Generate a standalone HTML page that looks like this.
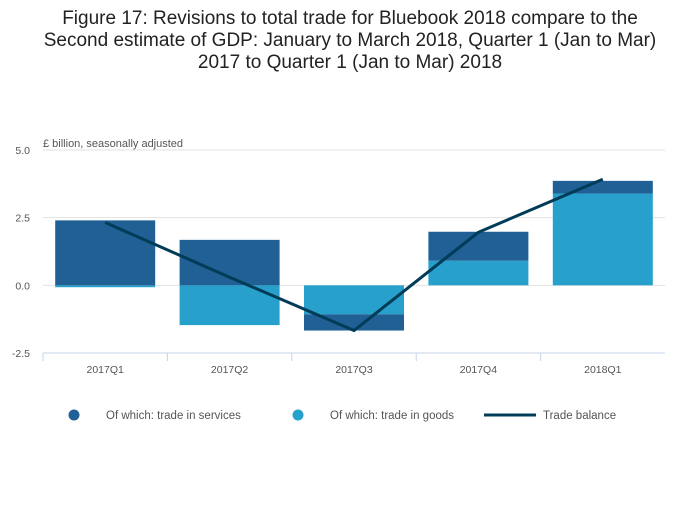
<!DOCTYPE html>
<html><head><meta charset="utf-8"><style>
body{margin:0;background:#fff;font-family:"Liberation Sans",sans-serif;}
svg text{font-family:"Liberation Sans",sans-serif;}
</style></head><body>
<svg width="700" height="502" viewBox="0 0 700 502" xmlns="http://www.w3.org/2000/svg">
<g fill="#222" font-size="19" text-anchor="middle">
<text x="350" y="24">Figure 17: Revisions to total trade for Bluebook 2018 compare to the</text>
<text x="350" y="46">Second estimate of GDP: January to March 2018, Quarter 1 (Jan to Mar)</text>
<text x="350" y="68">2017 to Quarter 1 (Jan to Mar) 2018</text>
</g>
<text x="43" y="147" font-size="11" fill="#555">£ billion, seasonally adjusted</text>
<g id="grid"></g><g id="bars"></g><g id="line"></g><g id="axis"></g>
<g font-size="11.5" fill="#555">
<g><circle cx="74" cy="415" r="5.5" fill="#206095"/><text x="106" y="419">Of which: trade in services</text></g>
<g><circle cx="298" cy="415" r="5.5" fill="#27a0cc"/><text x="330" y="419">Of which: trade in goods</text></g>
<g><line x1="484" y1="415" x2="536" y2="415" stroke="#003c57" stroke-width="3"/><text x="543" y="419">Trade balance</text></g>
</g>
</svg>
<script>
const categories=["2017Q1","2017Q2","2017Q3","2017Q4","2018Q1"];
const services=[2.4,1.68,-0.6,1.07,0.47];
const goods=[-0.07,-1.47,-1.07,0.91,3.39];
const balance=[2.32,0.3,-1.67,1.96,3.92];
const yTicks=[5,2.5,0,-2.5];
const yTickLabels=["5.0","2.5","0.0","-2.5"];
const NS="http://www.w3.org/2000/svg";
const L=43,R=665,T=150,B=353,ymin=-2.5,ymax=5;
const y=v=>B-(v-ymin)/(ymax-ymin)*(B-T);
const bw=(R-L)/categories.length;
const x=i=>L+bw*(i+0.5);
function mk(t,a,p){const e=document.createElementNS(NS,t);for(const k in a)e.setAttribute(k,a[k]);p.appendChild(e);return e;}
const grid=document.getElementById('grid'),bars=document.getElementById('bars'),line=document.getElementById('line'),axis=document.getElementById('axis');
yTicks.forEach((v,i)=>{
 if(v>ymin){const g=mk('line',{x1:L,x2:R,y1:y(v),y2:y(v),stroke:'#e2e2e2'},grid);
 
 }
 const t=mk('text',{x:30,y:y(v)+4,'text-anchor':'end','font-size':'10.5',fill:'#555'},axis);t.textContent=yTickLabels[i];
 
 
});
const al=mk('line',{x1:L,x2:R,y1:B,y2:B,stroke:'#c6d3e6'},axis);


categories.forEach((c,i)=>{
 const tk=mk('line',{x1:L+bw*i,x2:L+bw*i,y1:B,y2:B+8,stroke:'#c6d3e6'},axis);
 
 
 const t=mk('text',{x:x(i),y:B+20,'text-anchor':'middle','font-size':'10.5',fill:'#555'},axis);t.textContent=c;
 
 
 let pos=0,neg=0;
 [[goods[i],'#27a0cc','bar-goods'],[services[i],'#206095','bar-services']].forEach(([v,col,nm])=>{
  let y0,y1;
  if(v>=0){y0=pos;y1=pos+v;pos=y1;}else{y0=neg;y1=neg+v;neg=y1;}
  const r=mk('rect',{x:x(i)-50,width:100,y:Math.min(y(y0),y(y1)),height:Math.abs(y(y0)-y(y1)),fill:col},bars);
  
  
 });
});
const p=mk('polyline',{points:balance.map((v,i)=>x(i)+','+y(v)).join(' '),fill:'none',stroke:'#003c57','stroke-width':3},line);


</script>
</body></html>
